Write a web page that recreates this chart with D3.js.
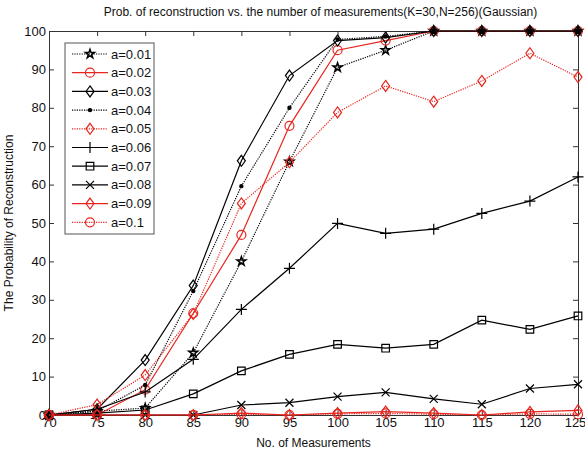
<!DOCTYPE html>
<html>
<head>
<meta charset="utf-8">
<script src="https://cdn.jsdelivr.net/npm/d3@7"></script>
<style>
	body { margin: 0; background: #fff; }
	svg text { font-family: "Liberation Sans", Arial, Helvetica, sans-serif; }
</style>
</head>
<body>
<script>
// measurements on the x axis
var measurements = [70, 75, 80, 85, 90, 95, 100, 105, 110, 115, 120, 125];
var yTicks = [0, 10, 20, 30, 40, 50, 60, 70, 80, 90, 100];

var a001 = [0, 1, 1.8, 16.2, 40, 66, 90.5, 95, 100, 100, 100, 100];
var a002 = [0, 0, 6.6, 26.5, 46.9, 75.3, 95, 97.5, 100, 100, 100, 100];
var a003 = [0, 1.5, 14.3, 33.7, 66.2, 88.4, 97.5, 98.3, 100, 100, 100, 100];
var a004 = [0, 1, 7.8, 32.3, 59.6, 80, 97.8, 98.6, 100, 100, 100, 100];
var a005 = [0, 2.7, 10.4, 26.3, 55.1, 65.8, 78.8, 85.7, 81.6, 87, 94.2, 88];
var a006 = [0, 1.5, 6, 14.5, 27.5, 38.2, 49.9, 47.3, 48.4, 52.5, 55.7, 62];
var a007 = [0, 0.5, 1.3, 5.5, 11.5, 15.8, 18.4, 17.4, 18.4, 24.7, 22.3, 25.8];
var a008 = [0, 0, 0, 0, 2.6, 3.2, 4.8, 5.9, 4.2, 2.8, 6.9, 8];
var a009 = [0, 0, 0, 0, 0.5, 0, 0.5, 0.9, 0.5, 0, 0.8, 1.2];
var a010 = [0, 0, 0, 0, 0.2, 0, 0.3, 0.4, 0.2, 0, 0.3, 0.2];

var seriesNames = ["a=0.01", "a=0.02", "a=0.03", "a=0.04", "a=0.05", "a=0.06", "a=0.07", "a=0.08", "a=0.09", "a=0.1"];
var seriesValues = [a001, a002, a003, a004, a005, a006, a007, a008, a009, a010];
var seriesColors = ["#000", "#e8251e", "#000", "#000", "#e8251e", "#000", "#000", "#000", "#e8251e", "#e8251e"];
var seriesDotted = [true, false, false, true, true, false, false, false, false, true];
var seriesMarkers = ["star", "circle", "diamond", "point", "diamond", "plus", "square", "cross", "diamond", "circle"];

var w = 585, h = 451;
var plotLeft = 49, plotRight = 578, plotTop = 31, plotBottom = 415;

var svg = d3.select("body")
	.append("svg")
	.attr("width", w)
	.attr("height", h);

var x = d3.scaleLinear().domain([70, 125]).range([plotLeft, plotRight]);
var y = d3.scaleLinear().domain([0, 100]).range([plotBottom, plotTop]);

// markers drawn around (0,0)
function markerPath(type) {
	switch (type) {
		case "star": return d3.symbol().type(d3.symbolStar).size(24)();
		case "circle": return "M4.5,0A4.5,4.5 0 1,1 -4.5,0A4.5,4.5 0 1,1 4.5,0Z";
		case "diamond": return "M0,-5.5L4,0L0,5.5L-4,0Z";
		case "point": return "M1.6,0A1.6,1.6 0 1,1 -1.6,0A1.6,1.6 0 1,1 1.6,0Z";
		case "plus": return "M-5.5,0L5.5,0M0,-5.5L0,5.5";
		case "square": return "M-3.8,-3.8L3.8,-3.8L3.8,3.8L-3.8,3.8Z";
		case "cross": return "M-4,-4L4,4M-4,4L4,-4";
	}
}

function drawMarker(g, type, color) {
	g.append("path")
		.attr("d", markerPath(type))
		.attr("fill", type == "point" ? color : "none")
		.attr("stroke", color)
		.attr("stroke-width", type == "star" ? 1.5 : 1.2);
}

// axes, ticks pointing inward
var fmt = d3.format("d");
svg.append("g")
	.attr("class", "xaxis")
	.attr("transform", "translate(0," + plotBottom + ")")
	.call(d3.axisBottom(x).tickValues(measurements).tickSize(-5).tickPadding(3).tickFormat(fmt));
svg.append("g")
	.attr("transform", "translate(0," + plotTop + ")")
	.call(d3.axisTop(x).tickValues(measurements).tickSize(-5).tickFormat(""));
svg.append("g")
	.attr("transform", "translate(" + plotLeft + ",0)")
	.call(d3.axisLeft(y).tickValues(yTicks).tickSize(-5).tickPadding(3).tickFormat(fmt));
svg.append("g")
	.attr("transform", "translate(" + plotRight + ",0)")
	.call(d3.axisRight(y).tickValues(yTicks).tickSize(-5).tickFormat(""));

svg.selectAll(".domain").attr("stroke", "#333").attr("stroke-width", 1);
svg.selectAll(".tick line").attr("stroke", "#333");
svg.selectAll(".tick text").attr("font-size", 13).attr("fill", "#111")
	.attr("font-family", "'Liberation Sans', Arial, sans-serif");
// keep the last x label inside the window
svg.selectAll(".xaxis .tick text").filter(function(d) { return d == 125; }).attr("dx", -3);

var line = d3.line()
	.x(function(d, i) { return x(measurements[i]); })
	.y(function(d) { return y(d); });

seriesValues.forEach(function(vals, s) {
	var g = svg.append("g");
	g.append("path")
		.datum(vals)
		.attr("d", line)
		.attr("fill", "none")
		.attr("stroke", seriesColors[s])
		.attr("stroke-width", 1.2)
		.attr("stroke-dasharray", seriesDotted[s] ? "1.2,1.2" : null);
	vals.forEach(function(v, i) {
		var m = g.append("g").attr("transform", "translate(" + x(measurements[i]) + "," + y(v) + ")");
		drawMarker(m, seriesMarkers[s], seriesColors[s]);
	});
});

// legend
var lg = svg.append("g");
lg.append("rect")
	.attr("x", 65).attr("y", 43)
	.attr("width", 89).attr("height", 191)
	.attr("fill", "#fff")
	.attr("stroke", "#555")
	.attr("stroke-width", 1);

seriesNames.forEach(function(name, s) {
	var ly = 54 + s * 18.7;
	lg.append("line")
		.attr("x1", 72).attr("x2", 108)
		.attr("y1", ly).attr("y2", ly)
		.attr("stroke", seriesColors[s])
		.attr("stroke-width", 1.2)
		.attr("stroke-dasharray", seriesDotted[s] ? "1.2,1.2" : null);
	var m = lg.append("g").attr("transform", "translate(90," + ly + ")");
	drawMarker(m, seriesMarkers[s], seriesColors[s]);
	lg.append("text")
		.attr("x", 111).attr("y", ly + 4.5)
		.attr("font-size", 13)
		.attr("fill", "#111")
		.text(name);
});

// titles
svg.append("text")
	.attr("x", (plotLeft + plotRight) / 2 + 7).attr("y", 16)
	.attr("text-anchor", "middle")
	.attr("font-size", 12)
	.attr("fill", "#111")
	.text("Prob. of reconstruction vs. the number of measurements(K=30,N=256)(Gaussian)");

svg.append("text")
	.attr("x", (plotLeft + plotRight) / 2).attr("y", 447)
	.attr("text-anchor", "middle")
	.attr("font-size", 12)
	.attr("fill", "#111")
	.text("No. of Measurements");

svg.append("text")
	.attr("transform", "translate(13," + ((plotTop + plotBottom) / 2) + ") rotate(-90)")
	.attr("text-anchor", "middle")
	.attr("font-size", 12)
	.attr("fill", "#111")
	.text("The Probability of Reconstruction");
</script>
</body>
</html>
